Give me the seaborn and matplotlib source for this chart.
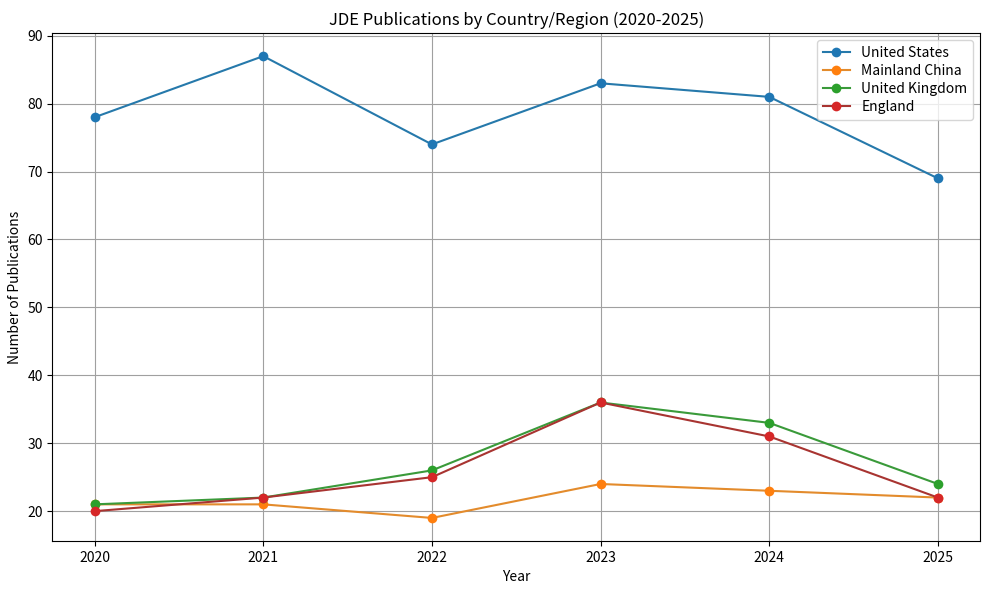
import pandas as pd
import matplotlib.pyplot as plt
import seaborn as sns

years = [2020, 2021, 2022, 2023, 2024, 2025]
countries = ['United States', 'Mainland China', 'United Kingdom', 'England']
us = [78, 87, 74, 83, 81, 69]
china = [21, 21, 19, 24, 23, 22]
uk = [21, 22, 26, 36, 33, 24]
england = [20, 22, 25, 36, 31, 22]

marker_colors = ['#1f77b4', '#ff7f0e', '#2ca02c', '#d62728']
line_colors = ['#2679ab', '#e38b2c', '#3a9a3a', '#a83431']

# long form table for seaborn
rows = []
for name, vals in zip(countries, [us, china, uk, england]):
    for y, v in zip(years, vals):
        rows.append({'Year': y, 'Country': name, 'Count': v})
df = pd.DataFrame(rows)

plt.rcParams['font.family'] = ['Noto Sans CJK SC', 'DejaVu Sans']

fig, ax = plt.subplots(figsize=(9.89, 5.9), dpi=100)
sns.lineplot(data=df, x='Year', y='Count', hue='Country', hue_order=countries,
             marker='o', markersize=7, markeredgewidth=0, linewidth=1.5,
             palette=marker_colors, ax=ax, legend=False)

lines = ax.lines[:4]
for ln, mc, lc in zip(lines, marker_colors, line_colors):
    ln.set_markerfacecolor(mc)
    ln.set_markeredgecolor(mc)
    ln.set_color(lc)

ax.set_title('JDE Publications by Country/Region (2020-2025)')
ax.set_xlabel('Year')
ax.set_ylabel('Number of Publications')
ax.set_xticks(years)
ax.grid(True, color='#a0a0a0', linewidth=0.8)
ax.legend(lines, countries, loc='upper right', labelspacing=0.3)

plt.subplots_adjust(left=0.053, right=0.991, top=0.944, bottom=0.083)
plt.savefig('out.png')
